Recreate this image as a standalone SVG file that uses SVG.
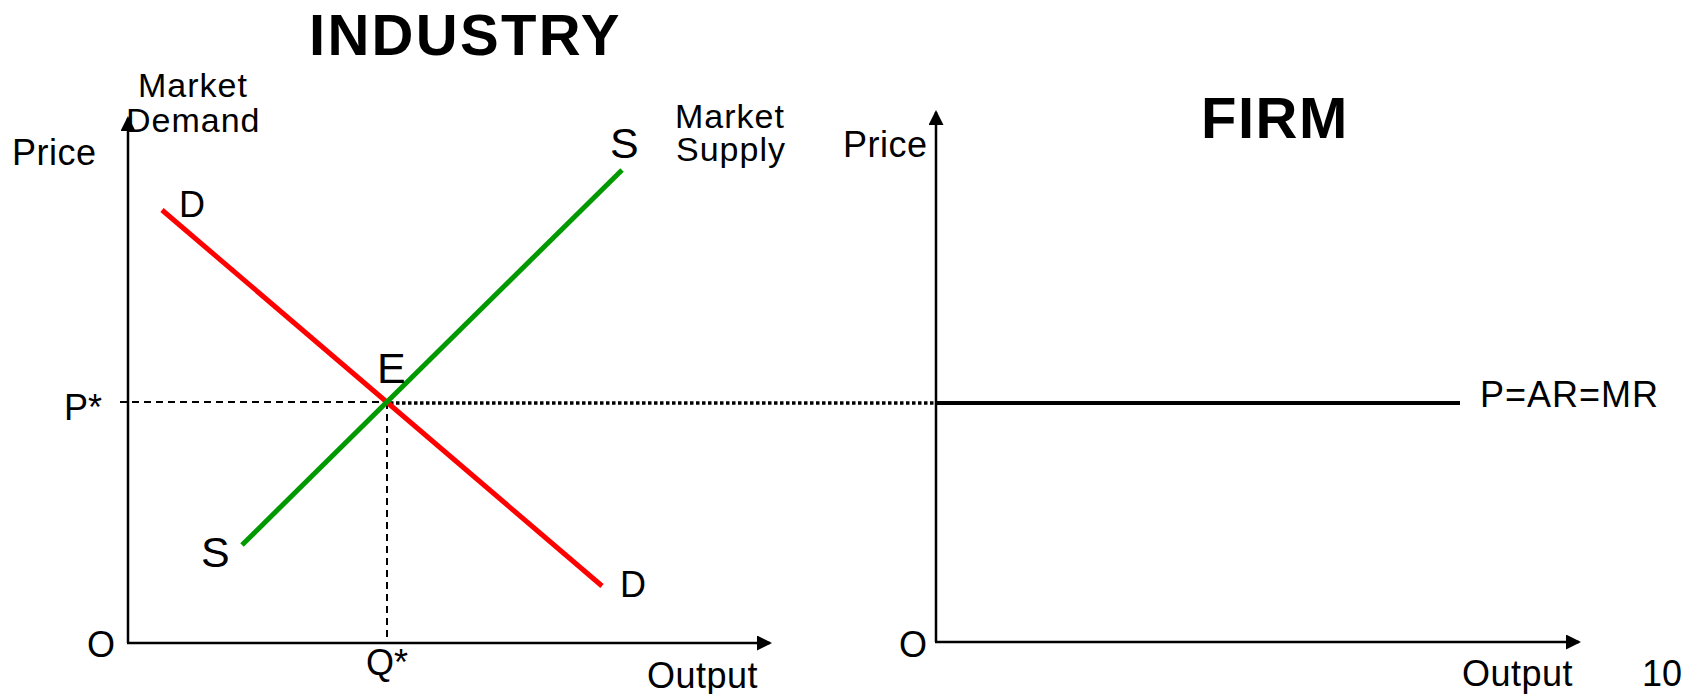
<svg xmlns="http://www.w3.org/2000/svg" width="1690" height="694" viewBox="0 0 1690 694">
<style>
text{font-family:"Liberation Sans",Arial,sans-serif;fill:#000}
.t{font-size:58px;font-weight:bold;letter-spacing:2.3px}
.l{font-size:36px}
.m{font-size:34px}
.b{font-size:43px}
.axis{stroke:#000;stroke-width:2.5;fill:none}
.guide{stroke:#000;stroke-width:2;stroke-dasharray:7 5;fill:none}
.dot{stroke:#000;stroke-width:3.5;stroke-dasharray:3.5 2.5;fill:none}
.dem{stroke:#ff0000;stroke-width:5;fill:none}
.sup{stroke:#009900;stroke-width:5;fill:none}
.ar{stroke:#000;stroke-width:4;fill:none}
</style>
<defs>
<marker id="arrow" viewBox="0 0 15 15" markerWidth="15" markerHeight="15" markerUnits="userSpaceOnUse" refX="13" refY="7.5" orient="auto">
<path d="M0,0 L15,7.5 L0,15 z" fill="#000"/>
</marker>
</defs>
<g id="titles">
<text class="t" x="309" y="55">INDUSTRY</text>
<text class="t" x="1201" y="138" style="letter-spacing:1.5px">FIRM</text>
</g>
<g id="industry-axes">
<line class="axis" x1="128" y1="643" x2="128" y2="118" marker-end="url(#arrow)"/>
<line class="axis" x1="127" y1="643" x2="770" y2="643" marker-end="url(#arrow)"/>
<text class="l" x="12" y="165" style="letter-spacing:0.5px">Price</text>
<text class="l" x="87" y="657">O</text>
<text class="l" x="647" y="688" style="letter-spacing:0.5px">Output</text>
</g>
<g id="firm-axes">
<line class="axis" x1="936" y1="642" x2="936" y2="112" marker-end="url(#arrow)"/>
<line class="axis" x1="935" y1="642" x2="1579" y2="642" marker-end="url(#arrow)"/>
<text class="l" x="843" y="157" style="letter-spacing:0.5px">Price</text>
<text class="l" x="899" y="657">O</text>
<text class="l" x="1462" y="686" style="letter-spacing:0.5px">Output</text>
<text class="l" x="1642" y="686">10</text>
</g>
<g id="connectors">
<line class="guide" x1="120" y1="402" x2="387" y2="402"/>
<line class="guide" x1="387" y1="402" x2="387" y2="643"/>
<line class="dot" x1="390" y1="403" x2="935" y2="403"/>
</g>
<g id="demand">
<line class="dem" x1="162" y1="210" x2="602" y2="586"/>
<text class="l" x="179" y="217">D</text>
<text class="l" x="620" y="597">D</text>
<text class="m" x="138" y="97" style="letter-spacing:1px">Market</text>
<text class="m" x="126" y="132" style="letter-spacing:1px">Demand</text>
</g>
<g id="supply">
<line class="sup" x1="242" y1="545" x2="622" y2="170"/>
<text class="b" x="610" y="158">S</text>
<text class="b" x="201" y="567">S</text>
<text class="m" x="675" y="128" style="letter-spacing:1px">Market</text>
<text class="m" x="676" y="161" style="letter-spacing:1px">Supply</text>
</g>
<g id="equilibrium">
<text class="b" x="377" y="383">E</text>
<text class="l" x="64" y="420">P*</text>
<text class="l" x="366" y="675">Q*</text>
</g>
<g id="firm-demand">
<line class="ar" x1="935" y1="403" x2="1460" y2="403"/>
<text class="l" x="1480" y="407" style="letter-spacing:1px">P=AR=MR</text>
</g>
</svg>
